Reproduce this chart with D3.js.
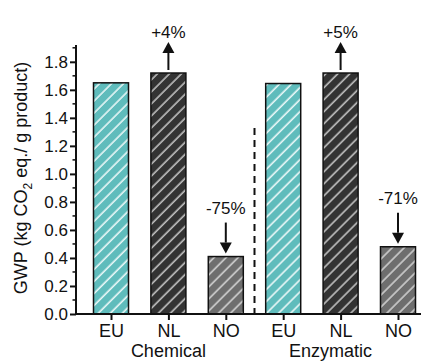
<!DOCTYPE html>
<html>
<head>
<meta charset="utf-8">
<script src="https://cdn.jsdelivr.net/npm/d3@7"></script>
<style>
  body { margin: 0; background: #fff; }
  text { font-family: "Liberation Sans", Arial, sans-serif; fill: #111; }
</style>
</head>
<body>
<div id="root"></div>
<script>
// data
const keys = ["Chemical-EU", "Chemical-NL", "Chemical-NO", "Enzymatic-EU", "Enzymatic-NL", "Enzymatic-NO"];
const regions = ["EU", "NL", "NO", "EU", "NL", "NO"];
const values = [1.65, 1.72, 0.41, 1.645, 1.72, 0.48];
const groups = ["Chemical", "Enzymatic"];
const changes = [null, "+4%", "-75%", null, "+5%", "-71%"];
const yTicks = [0, 0.2, 0.4, 0.6, 0.8, 1.0, 1.2, 1.4, 1.6, 1.8];

const fills = { EU: "#5fbcbc", NL: "#333333", NO: "#6e6e6e" };
const stripes = { EU: "#f2fbfb", NL: "#c8c8c8", NO: "#d6d6d6" };

const W = 425, H = 363;
const svg = d3.select("#root").append("svg")
    .attr("width", W)
    .attr("height", H);

const x = d3.scalePoint().domain(keys).range([111, 398]);
const y = d3.scaleLinear().domain([0, 1.92]).range([314, 45]);
const barW = 35;

// hatch patterns
const defs = svg.append("defs");
Object.keys(fills).forEach(function (k) {
    const p = defs.append("pattern")
        .attr("id", "hatch-" + k)
        .attr("patternUnits", "userSpaceOnUse")
        .attr("width", 8.5)
        .attr("height", 8.5)
        .attr("patternTransform", "rotate(45)");
    p.append("rect").attr("width", 8.5).attr("height", 8.5).attr("fill", fills[k]);
    p.append("line")
        .attr("x1", 2).attr("y1", 0).attr("x2", 2).attr("y2", 8.5)
        .attr("stroke", stripes[k])
        .attr("stroke-width", 1.5);
});

// bars
svg.selectAll(".bar")
    .data(keys)
    .enter().append("rect")
    .attr("class", "bar")
    .attr("x", function (d) { return x(d) - barW / 2; })
    .attr("y", function (d, i) { return y(values[i]); })
    .attr("width", barW)
    .attr("height", function (d, i) { return y(0) - y(values[i]); })
    .attr("fill", function (d, i) { return "url(#hatch-" + regions[i] + ")"; })
    .attr("stroke", "#111")
    .attr("stroke-width", 1.5);

// dashed separator
const sepX = (x(keys[2]) + x(keys[3])) / 2;
svg.append("line")
    .attr("x1", sepX).attr("x2", sepX)
    .attr("y1", 128).attr("y2", y(0))
    .attr("stroke", "#111")
    .attr("stroke-width", 2)
    .attr("stroke-dasharray", "7,5");

// y axis
const yAxis = svg.append("g")
    .attr("transform", "translate(76,0)");
yAxis.append("line")
    .attr("x1", 0).attr("x2", 0)
    .attr("y1", y(1.92)).attr("y2", y(0))
    .attr("stroke", "#111").attr("stroke-width", 2);
yAxis.call(d3.axisLeft(y).tickValues(yTicks).tickFormat(d3.format(".1f")).tickSize(6).tickSizeOuter(0))
    .call(function (g) { g.select(".domain").remove(); })
    .call(function (g) {
        g.selectAll(".tick line").attr("stroke", "#111").attr("stroke-width", 2);
        g.selectAll(".tick text")
            .attr("x", -8)
            .style("font-family", "'Liberation Sans', Arial, sans-serif")
            .style("font-size", "17px")
            .attr("fill", "#111");
    });
yAxis.selectAll(".minor")
    .data(d3.range(0.1, 1.95, 0.2))
    .enter().append("line")
    .attr("class", "minor")
    .attr("x1", -3.5).attr("x2", 0)
    .attr("y1", function (d) { return y(d); })
    .attr("y2", function (d) { return y(d); })
    .attr("stroke", "#111").attr("stroke-width", 1.5);

// x axis
const xAxis = svg.append("g")
    .attr("transform", "translate(0," + y(0) + ")");
xAxis.append("line")
    .attr("x1", 75).attr("x2", 421)
    .attr("stroke", "#111").attr("stroke-width", 2);
xAxis.call(d3.axisBottom(x).tickFormat(function (d, i) { return regions[i]; }).tickSize(6).tickSizeOuter(0))
    .call(function (g) { g.select(".domain").remove(); })
    .call(function (g) {
        g.selectAll(".tick line").attr("stroke", "#111").attr("stroke-width", 2);
        g.selectAll(".tick text")
            .attr("y", 10)
            .style("font-family", "'Liberation Sans', Arial, sans-serif")
            .style("font-size", "18px")
            .attr("fill", "#111");
    });

// group labels
svg.selectAll(".group")
    .data(groups)
    .enter().append("text")
    .attr("class", "group")
    .attr("x", function (d, i) { return i === 0 ? x(keys[1]) : x(keys[4]) - 10; })
    .attr("y", 357)
    .attr("text-anchor", "middle")
    .style("font-size", "18px")
    .text(function (d) { return d; });

// y label
const ylab = svg.append("text")
    .attr("transform", "translate(27,178) rotate(-90)")
    .attr("text-anchor", "middle")
    .style("font-size", "18px");
ylab.append("tspan").text("GWP (kg CO");
ylab.append("tspan").attr("dy", 5).style("font-size", "12px").text("2");
ylab.append("tspan").attr("dy", -5).text(" eq./ g product)");

// change annotations with arrows
const ann = svg.selectAll(".ann")
    .data(keys.map(function (k, i) { return { k: k, v: values[i], c: changes[i] }; })
        .filter(function (d) { return d.c; }))
    .enter().append("g")
    .attr("class", "ann");

ann.each(function (d) {
    const g = d3.select(this);
    const cx = x(d.k);
    const top = y(d.v);
    const up = d.c[0] === "+";
    let tip, base, ty;
    if (up) {
        base = top - 3; tip = top - 31; ty = tip - 4;
    } else {
        tip = top - 3; base = tip - 31; ty = base - 9;
    }
    const headH = 11, headW = 6;
    const neck = up ? tip + headH : tip - headH;
    g.append("line")
        .attr("x1", cx).attr("x2", cx)
        .attr("y1", base).attr("y2", neck)
        .attr("stroke", "#111").attr("stroke-width", 2);
    g.append("path")
        .attr("d", "M" + cx + "," + tip + "L" + (cx - headW) + "," + neck + "L" + (cx + headW) + "," + neck + "Z")
        .attr("fill", "#111");
    g.append("text")
        .attr("x", cx)
        .attr("y", ty)
        .attr("text-anchor", "middle")
        .style("font-size", "17px")
        .text(d.c);
});
</script>
</body>
</html>
